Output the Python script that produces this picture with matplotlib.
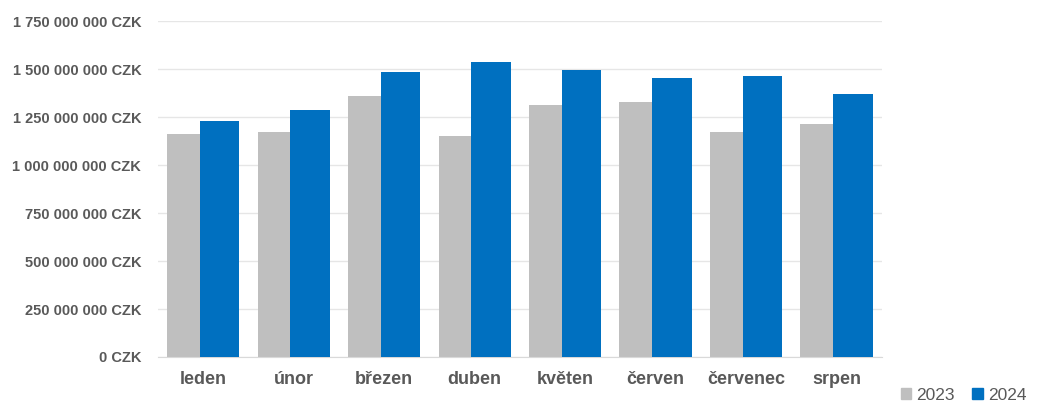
import matplotlib.pyplot as plt
import numpy as np
from matplotlib.ticker import FuncFormatter
from matplotlib.patches import Patch

months = ['leden', 'únor', 'březen', 'duben', 'květen', 'červen', 'červenec', 'srpen']
values_2023 = [1161e6, 1170e6, 1358e6, 1151e6, 1312e6, 1330e6, 1170e6, 1214e6]
values_2024 = [1229e6, 1288e6, 1486e6, 1538e6, 1495e6, 1455e6, 1464e6, 1370e6]
series_labels = ['2023', '2024']

plt.rcParams['font.family'] = ['Liberation Sans Narrow', 'Liberation Sans', 'DejaVu Sans']
text_col = '#595959'

fig = plt.figure(figsize=(10.37, 4.08), dpi=100)
ax = fig.add_axes([0.1524, 0.125, 0.698, 0.8235])

x = np.arange(len(months))
w = 0.44
ax.bar(x - 0.18, values_2023, width=w, color='#bfbfbf', zorder=2)
ax.bar(x + 0.18, values_2024, width=w, color='#0070c0', zorder=3)

ax.set_xlim(-0.5, len(months) - 0.5)
ax.set_ylim(0, 1.75e9)
ax.set_yticks(np.arange(0, 1.75e9 + 1, 2.5e8))
ax.yaxis.set_major_formatter(FuncFormatter(lambda v, p: f'{int(v):,} CZK'.replace(',', ' ')))
ax.grid(axis='y', color='#e6e6e6', linewidth=1, zorder=0)
for s in ['top', 'right', 'left']:
    ax.spines[s].set_visible(False)
ax.spines['bottom'].set_color('#d9d9d9')
ax.tick_params(length=0)
ax.tick_params(axis='y', pad=12, labelsize=10.5, labelcolor=text_col)
ax.tick_params(axis='x', pad=10, labelsize=13, labelcolor=text_col)
ax.set_xticks(x)
ax.set_xticklabels(months)
for t in ax.get_yticklabels() + ax.get_xticklabels():
    t.set_fontweight('bold')

handles = [Patch(color='#bfbfbf'), Patch(color='#0070c0')]
fig.legend(handles, series_labels, loc='lower right', bbox_to_anchor=(1.005, -0.025), ncol=2,
           frameon=False, fontsize=12.5, handlelength=0.6, handleheight=0.6,
           handletextpad=0.3, columnspacing=1.0, labelcolor=text_col)

fig.savefig('out.png', dpi=100)
